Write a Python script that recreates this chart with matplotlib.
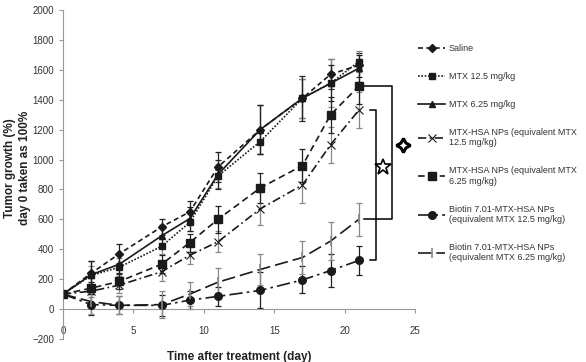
import numpy as np
import matplotlib
matplotlib.use("Agg")
import matplotlib.pyplot as plt

plt.rcParams['font.family'] = ['Liberation Sans', 'DejaVu Sans']

days = [0, 2, 4, 7, 9, 11, 14, 17, 19, 21]

saline = [100, 240, 370, 550, 650, 950, 1200, 1410, 1570, 1630]
mtx_125 = [100, 225, 280, 420, 580, 890, 1120, 1410, 1510, 1655]
mtx_625 = [100, 230, 300, 490, 605, 900, 1200, 1410, 1510, 1610]
hsa_125 = [100, 120, 160, 250, 360, 450, 670, 830, 1100, 1330]
hsa_625 = [100, 140, 185, 300, 445, 600, 810, 960, 1300, 1490]
bio_125 = [100, 30, 25, 25, 60, 85, 125, 195, 258, 325]
bio_625 = [100, 50, 25, 30, 100, 180, 265, 345, 455, 600]

saline_err = [0, 80, 65, 55, 75, 100, 165, 130, 100, 80]
mtx_125_err = [0, 60, 60, 50, 60, 80, 80, 130, 160, 70]
mtx_625_err = [0, 90, 60, 70, 80, 100, 165, 150, 120, 90]
hsa_125_err = [0, 40, 50, 60, 60, 70, 110, 120, 120, 120]
hsa_625_err = [0, 40, 50, 60, 60, 90, 100, 110, 120, 120]
bio_125_err = [0, 70, 60, 70, 60, 65, 120, 90, 110, 100]
bio_625_err = [0, 80, 60, 90, 80, 95, 105, 110, 130, 110]

labels = [
    "Saline",
    "MTX 12.5 mg/kg",
    "MTX 6.25 mg/kg",
    "MTX-HSA NPs (equivalent MTX\n12.5 mg/kg)",
    "MTX-HSA NPs (equivalent MTX\n6.25 mg/kg)",
    "Biotin 7.01-MTX-HSA NPs\n(equivalent MTX 12.5 mg/kg)",
    "Biotin 7.01-MTX-HSA NPs\n(equivalent MTX 6.25 mg/kg)",
]

series = [
    (saline, saline_err, dict(marker='D', ms=4, ls=(0, (3, 2)), color='#1a1a1a'), '#222222'),
    (mtx_125, mtx_125_err, dict(marker='s', ms=5, ls=(0, (1, 1)), color='#1a1a1a'), '#888888'),
    (mtx_625, mtx_625_err, dict(marker='^', ms=4, ls='-', color='#1a1a1a'), '#222222'),
    (hsa_125, hsa_125_err, dict(marker='x', ms=6, ls=(0, (5, 2, 1, 2)), color='#1a1a1a', mew=0.8), '#888888'),
    (hsa_625, hsa_625_err, dict(marker='s', ms=6, ls=(0, (4, 2.5)), color='#1a1a1a'), '#222222'),
    (bio_125, bio_125_err, dict(marker='o', ms=5.5, ls=(0, (8, 2.5, 1.5, 2.5)), color='#1a1a1a'), '#222222'),
    (bio_625, bio_625_err, dict(marker='|', ms=7, ls=(0, (8, 3)), color='#1a1a1a', mec='#888888', mew=1.2), '#888888'),
]

fig = plt.figure(figsize=(5.86, 3.62), dpi=100)
ax = fig.add_axes([0.1075, 0.0635, 0.601, 0.909])

handles = []
for (vals, err, style, ecol), lab in zip(series, labels):
    ax.errorbar(days, vals, yerr=err, fmt='none', ecolor=ecol, elinewidth=0.9,
                capsize=2.5, capthick=0.9, zorder=2)
    h, = ax.plot(days, vals, lw=1.2, label=lab, zorder=3, **style)
    handles.append(h)

# significance brackets
x0 = days[-1]
ax.plot([x0 + 0.4, x0 + 2.35, x0 + 2.35, x0 + 0.4],
        [hsa_625[-1], hsa_625[-1], bio_625[-1], bio_625[-1]], color='black', lw=1.1)
ax.plot([x0 + 0.8, x0 + 1.2, x0 + 1.2, x0 + 0.8],
        [hsa_125[-1], hsa_125[-1], bio_125[-1], bio_125[-1]], color='black', lw=1.1)
ax.plot([x0 + 1.7], [(hsa_125[-1] + bio_125[-1]) / 2 + 120], marker='*', ms=12,
        mfc='white', mec='black', mew=1.2, clip_on=False)
ax.plot([x0 + 3.1], [(hsa_625[-1] + bio_625[-1]) / 2 + 50], marker=(4, 1, 0), ms=10,
        mfc='white', mec='black', mew=2.2, clip_on=False)

ax.set_xlim(0, 25)
ax.set_ylim(-200, 2000)
ax.set_xticks(range(0, 26, 5))
ax.set_yticks(range(-200, 2001, 200))

for s in ['top', 'right']:
    ax.spines[s].set_visible(False)
ax.spines['bottom'].set_position(('data', 0))
for s in ['left', 'bottom']:
    ax.spines[s].set_color('#999999')
    ax.spines[s].set_linewidth(0.8)
ax.tick_params(axis='both', colors='#999999', labelcolor='#333333', labelsize=7,
               length=3, width=0.8, direction='out')
ax.tick_params(axis='x', pad=9)

ax.set_xlabel('Time after treatment (day)', fontsize=8.5, fontweight='bold', color='#222222')
ax.xaxis.set_label_coords(0.5, -0.035)
ax.set_ylabel('Tumor growth (%)\nday 0 taken as 100%', fontsize=8.5, fontweight='bold',
              color='#222222', linespacing=1.35)
ax.yaxis.set_label_coords(-0.09, 0.52)

fig.legend(handles=handles, loc='upper left', bbox_to_anchor=(418 / 586, 1 - 44 / 362),
           frameon=False, fontsize=6.5, handlelength=3.0, handletextpad=0.4,
           labelspacing=2.1, borderpad=0, borderaxespad=0, labelcolor='#333333')

fig.savefig('out.png', dpi=100)
